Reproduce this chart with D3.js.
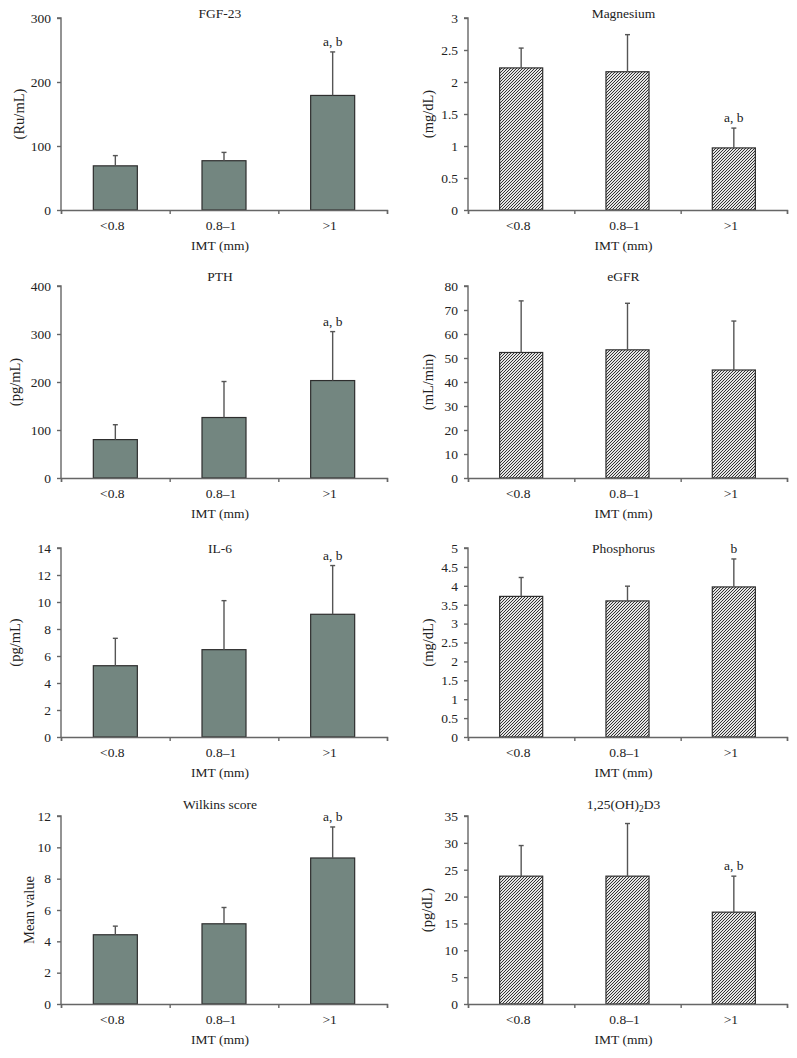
<!DOCTYPE html>
<html><head><meta charset="utf-8">
<script src="https://cdn.jsdelivr.net/npm/d3@7"></script>
<style>
html,body{margin:0;padding:0;background:#fff;}
text{font-family:"Liberation Serif","Times New Roman",serif;fill:#222;}
</style></head>
<body>
<svg id="chart" width="797" height="1058"></svg>
<script>
const categories = ["<0.8", "0.8\u20131", ">1"];

const fgf23Mean = [69, 77, 179];
const fgf23Sd = [16, 13, 68];
const fgf23Ticks = [0, 100, 200, 300];

const magnesiumMean = [2.22, 2.16, 0.97];
const magnesiumSd = [0.31, 0.58, 0.31];
const magnesiumTicks = [0, 0.5, 1, 1.5, 2, 2.5, 3];

const pthMean = [80, 126, 203];
const pthSd = [31, 75, 102];
const pthTicks = [0, 100, 200, 300, 400];

const egfrMean = [52.3, 53.4, 45];
const egfrSd = [21.5, 19.4, 20.4];
const egfrTicks = [0, 10, 20, 30, 40, 50, 60, 70, 80];

const il6Mean = [5.28, 6.47, 9.09];
const il6Sd = [2.03, 3.63, 3.61];
const il6Ticks = [0, 2, 4, 6, 8, 10, 12, 14];

const phosphorusMean = [3.72, 3.6, 3.97];
const phosphorusSd = [0.5, 0.39, 0.74];
const phosphorusTicks = [0, 0.5, 1, 1.5, 2, 2.5, 3, 3.5, 4, 4.5, 5];

const wilkinsMean = [4.42, 5.12, 9.32];
const wilkinsSd = [0.55, 1.04, 1.98];
const wilkinsTicks = [0, 2, 4, 6, 8, 10, 12];

const vitdMean = [23.8, 23.8, 17.1];
const vitdSd = [5.7, 9.8, 6.7];
const vitdTicks = [0, 5, 10, 15, 20, 25, 30, 35];

const panels = [
  {title:"FGF-23", unit:"(Ru/mL)", mean:fgf23Mean, sd:fgf23Sd, ticks:fgf23Ticks, note:["","","a, b"], col:0, row:0, hatch:false},
  {title:"Magnesium", unit:"(mg/dL)", mean:magnesiumMean, sd:magnesiumSd, ticks:magnesiumTicks, note:["","","a, b"], col:1, row:0, hatch:true},
  {title:"PTH", unit:"(pg/mL)", mean:pthMean, sd:pthSd, ticks:pthTicks, note:["","","a, b"], col:0, row:1, hatch:false},
  {title:"eGFR", unit:"(mL/min)", mean:egfrMean, sd:egfrSd, ticks:egfrTicks, note:["","",""], col:1, row:1, hatch:true},
  {title:"IL-6", unit:"(pg/mL)", mean:il6Mean, sd:il6Sd, ticks:il6Ticks, note:["","","a, b"], col:0, row:2, hatch:false},
  {title:"Phosphorus", unit:"(mg/dL)", mean:phosphorusMean, sd:phosphorusSd, ticks:phosphorusTicks, note:["","","b"], col:1, row:2, hatch:true},
  {title:"Wilkins score", unit:"Mean value", mean:wilkinsMean, sd:wilkinsSd, ticks:wilkinsTicks, note:["","","a, b"], col:0, row:3, hatch:false},
  {title:"VITD", unit:"(pg/dL)", mean:vitdMean, sd:vitdSd, ticks:vitdTicks, note:["","","a, b"], col:1, row:3, hatch:true}
];

// layout
const colX = [[61, 387], [468, 787]];
const rowY = [[18, 210], [286, 478], [548, 737], [816, 1004]];
const titleY = [18, 281, 553, 809];
const unitX = [[19, 428], [15, 428], [15, 428], [29, 427]];
const FS = 13.5;

const svg = d3.select("#chart");
const defs = svg.append("defs");
const pat = defs.append("pattern").attr("id","hatch").attr("patternUnits","userSpaceOnUse")
  .attr("width",3).attr("height",3);
pat.append("rect").attr("width",3).attr("height",3).attr("fill","#e4e4e4");
[[2,0],[1,1],[0,2]].forEach(([px,py]) =>
  pat.append("rect").attr("x",px).attr("y",py).attr("width",1).attr("height",1)
    .attr("fill","#333").attr("shape-rendering","crispEdges"));

panels.forEach(p => {
  const [x0, x1] = colX[p.col];
  const [y0, y1] = rowY[p.row];
  const g = svg.append("g");
  const x = d3.scaleBand().domain(categories).range([x0, x1]).paddingInner(0).paddingOuter(0);
  const y = d3.scaleLinear().domain([0, d3.max(p.ticks)]).range([y1, y0]);
  const bw = x.bandwidth() * 0.405;

  // bars
  g.selectAll("rect.bar").data(p.mean).join("rect")
    .attr("x", (d,i) => x(categories[i]) + x.bandwidth()/2 - bw/2)
    .attr("y", d => y(d))
    .attr("width", bw)
    .attr("height", d => y(0) - y(d))
    .attr("fill", p.hatch ? "url(#hatch)" : "#738680")
    .attr("stroke", "#2e2e2e").attr("stroke-width", 1.2);

  // error bars
  p.mean.forEach((m, i) => {
    const cx = x(categories[i]) + x.bandwidth()/2;
    const top = y(m + p.sd[i]);
    g.append("line").attr("x1",cx).attr("x2",cx).attr("y1",y(m)).attr("y2",top)
      .attr("stroke","#555").attr("stroke-width",1.4);
    g.append("line").attr("x1",cx-2.5).attr("x2",cx+2.5).attr("y1",top).attr("y2",top)
      .attr("stroke","#555").attr("stroke-width",1.4);
    if (p.note[i]) {
      g.append("text").attr("x",cx).attr("y",top-6).attr("text-anchor","middle")
        .attr("font-size",FS).text(p.note[i]);
    }
  });

  // y axis
  const yAxis = d3.axisLeft(y).tickValues(p.ticks).tickFormat(d3.format("~g")).tickSize(4).tickPadding(6);
  const ya = g.append("g").attr("transform",`translate(${x0},0)`).call(yAxis);
  // x axis
  const xl = d3.scaleLinear().domain([0,3]).range([x0,x1]);
  const xAxis = d3.axisBottom(xl).tickValues([0,1,2,3]).tickFormat("").tickSize(4);
  const xa = g.append("g").attr("transform",`translate(0,${y1})`).call(xAxis);
  [ya, xa].forEach(a => {
    a.select(".domain").attr("stroke","#666").attr("stroke-width",1.4);
    a.selectAll(".tick line").attr("stroke","#666").attr("stroke-width",1.4);
    a.selectAll("text").attr("font-size",FS).attr("fill","#222")
      .attr("font-family",'"Liberation Serif","Times New Roman",serif');
  });
  ya.select(".domain").attr("d", `M-4,${y0}H0V${y1}`);

  // category labels
  g.selectAll("text.cat").data(categories).join("text")
    .attr("x", d => x(d) + x.bandwidth()/2 - 3)
    .attr("y", y1 + 20)
    .attr("text-anchor","middle").attr("font-size",FS).text(d => d);

  // x title
  g.append("text").attr("x",(x0+x1)/2 - 4).attr("y", y1 + 40)
    .attr("text-anchor","middle").attr("font-size",FS).text("IMT (mm)");

  // title
  const t = g.append("text").attr("x",(x0+x1)/2 - 4).attr("y", titleY[p.row])
    .attr("text-anchor","middle").attr("font-size",FS);
  if (p.title === "VITD") {
    t.append("tspan").text("1,25(OH)");
    t.append("tspan").attr("font-size",9.5).attr("dy",3).text("2");
    t.append("tspan").attr("dy",-3).text("D3");
  } else {
    t.text(p.title);
  }

  // y title
  const ux = unitX[p.row][p.col];
  g.append("text").attr("transform",`translate(${ux},${(y0+y1)/2}) rotate(-90)`)
    .attr("text-anchor","middle").attr("dy","0.35em").attr("font-size",14.5).text(p.unit);
});
</script>
</body></html>
